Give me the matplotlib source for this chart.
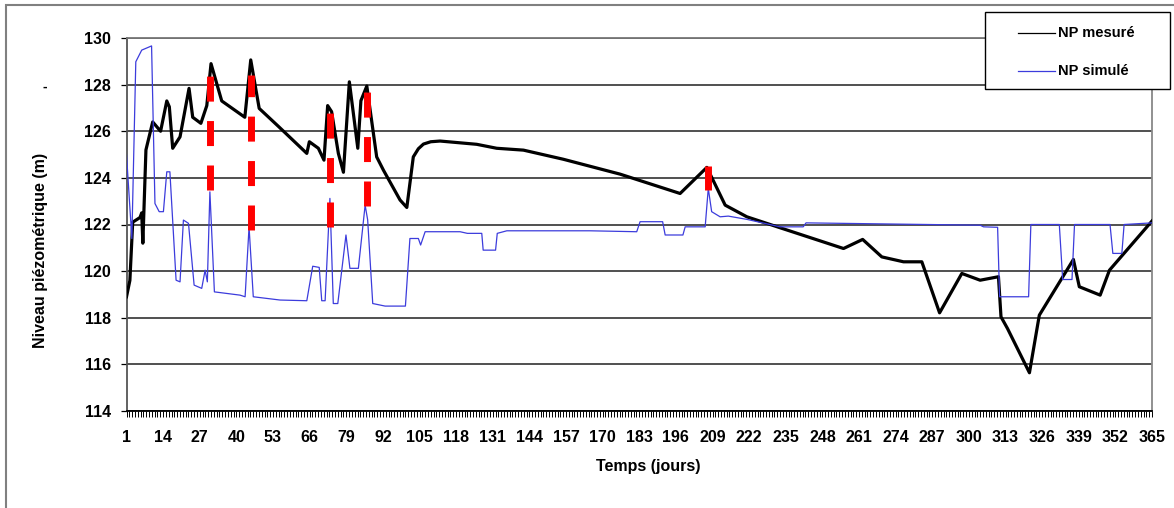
import numpy as np
import matplotlib
matplotlib.use('Agg')
import matplotlib.pyplot as plt
from matplotlib.lines import Line2D
from matplotlib.patches import Rectangle

plt.rcParams['font.family'] = ['Liberation Sans', 'DejaVu Sans']
plt.rcParams['font.weight'] = 'bold'
plt.rcParams['lines.scale_dashes'] = False

mes_days = [1, 2.2, 3.2, 5.8, 6.4, 6.8, 7.9, 10.3, 13.1, 15.3, 16.2, 17.4, 20, 23.2, 24.5,
            27.4, 29.5, 31, 34.8, 43, 45.1, 48.1, 55, 65, 65.9, 69.1, 71.1, 72.4, 73.8,
            76.2, 78, 80.1, 83.1, 84.2, 86.3, 89.8, 92.2, 98.1, 100.5, 102.8, 104.6, 106.4,
            109, 112.3, 125.3, 132.4, 141.9, 156, 176.2, 197.5, 207, 213.5, 221.2, 233,
            255.5, 262.3, 269.1, 276.8, 283.3, 289.6, 297.5, 304, 310.5, 311.4, 313.7,
            321.5, 325, 337.1, 339.2, 346.6, 349.9, 365]
mes_vals = [118.9, 119.6, 122.1, 122.3, 122.5, 121.2, 125.2, 126.4, 126.0, 127.3, 127.05,
            125.27, 125.76, 127.84, 126.6, 126.34, 127.1, 128.9, 127.3, 126.6, 129.06, 126.98,
            126.2, 125.05, 125.55, 125.27, 124.76, 127.1, 126.84, 125.05, 124.24, 128.12,
            125.27, 127.31, 127.94, 124.9, 124.33, 123.05, 122.73, 124.9, 125.25, 125.45,
            125.55, 125.58, 125.44, 125.27, 125.19, 124.8, 124.16, 123.33, 124.45, 122.83,
            122.33, 121.86, 120.97, 121.36, 120.61, 120.4, 120.4, 118.21, 119.9, 119.61,
            119.76, 118.04, 117.54, 115.64, 118.11, 120.5, 119.33, 118.97, 120.04, 122.15]

# NP simule (simulated level)
sim_days = [1, 2.9, 4.3, 6.4, 9.9, 11.1, 12.6, 14.1, 15.3, 16.4, 18.6, 20, 21.2, 23, 25,
            27.7, 28.9, 29.7, 30.6, 32.2, 41.3, 43.1, 44.5, 46, 55.5, 65, 67.1, 69.4, 70.3,
            71.5, 73.2, 74.4, 76, 78.9, 80.3, 83.3, 85.7, 86.6, 88.4, 92.8, 100, 101.6, 104.6,
            105.4, 107, 119.4, 122, 127.1, 127.6, 132, 132.6, 136, 165.5, 182.1, 183.3, 191.3,
            192.2, 198.5, 199.3, 206.4, 207.5, 208.7, 211.7, 214.6, 221.2, 233, 241.2, 242.2,
            304, 305.2, 310.2, 310.9, 321.2, 322, 332.1, 333.3, 336.6, 337.5, 350.1, 351.1,
            354.3, 355.1, 365]
sim_vals = [125.0, 121.4, 128.98, 129.48, 129.66, 122.9, 122.55, 122.55, 124.26, 124.26,
            119.61, 119.54, 122.19, 122.05, 119.4, 119.26, 120.04, 119.54, 123.4, 119.11,
            118.97, 118.9, 121.9, 118.9, 118.76, 118.73, 120.21, 120.16, 118.73, 118.73,
            123.12, 118.61, 118.61, 121.55, 120.12, 120.12, 122.83, 122.2, 118.61, 118.5,
            118.5, 121.4, 121.4, 121.12, 121.69, 121.69, 121.62, 121.62, 120.9, 120.9,
            121.62, 121.73, 121.73, 121.69, 122.12, 122.12, 121.55, 121.55, 121.9, 121.9,
            123.55, 122.55, 122.33, 122.36, 122.22, 121.9, 121.9, 122.07, 121.97, 121.9,
            121.88, 118.9, 118.9, 122.0, 122.0, 119.64, 119.64, 122.0, 122.0, 120.76, 120.76,
            122.0, 122.07]

# red dashed lag markers
red_days = [30.6, 45.3, 73.2, 86.2, 207.5]
red_top = [128.35, 128.4, 126.8, 127.7, 124.5]
red_bottom = [123.5, 121.75, 121.9, 122.8, 123.5]

y_ticks = list(range(114, 131, 2))
x_labels = list(range(1, 366, 13))

fig = plt.figure(figsize=(11.74, 5.08), dpi=100)
ax = fig.add_axes([126.5 / 1174, 1 - 411 / 508, (1152 - 126.5) / 1174, 373 / 508])

ax.plot(mes_days, mes_vals, color='black', lw=2.3, zorder=3)
ax.plot(sim_days, sim_vals, color='#3c3cdc', lw=0.9, zorder=4)
ax.vlines(red_days, red_bottom, red_top, colors='#ff0000', lw=5.0,
          linestyles=[(0, (18, 14))], zorder=5)

ax.set_xlim(1, 365)
ax.set_ylim(114, 130)
ax.set_yticks(y_ticks)
ax.set_xticks(x_labels)
ax.set_xticks(np.arange(1, 366), minor=True)
ax.tick_params(axis='x', which='both', length=4.5, width=0.7, direction='out', pad=9,
               labelsize=11.5)
ax.tick_params(axis='y', length=4, width=0.9, direction='out', pad=7, labelsize=11.5)
for lab in ax.get_xticklabels() + ax.get_yticklabels():
    lab.set_fontweight('bold')

ax.grid(True, axis='y', color='#505050', lw=1.4, zorder=1)
ax.set_axisbelow(True)
ax.spines['left'].set_color('#555555')
ax.spines['left'].set_linewidth(1.3)
ax.spines['bottom'].set_color('black')
ax.spines['bottom'].set_linewidth(1.3)
ax.spines['top'].set_color('#777777')
ax.spines['top'].set_linewidth(1.3)
ax.spines['right'].set_color('#888888')
ax.spines['right'].set_linewidth(1.3)

fig.text(648 / 1174, 1 - 467 / 508, 'Temps (jours)', ha='center', va='center',
         fontsize=11.5, fontweight='bold')
fig.text(41 / 1174, 1 - 250 / 508, 'Niveau piézométrique (m)', ha='center', va='center',
         rotation=90, fontsize=11.5, fontweight='bold')
fig.text(45 / 1174, 1 - 87 / 508, '-', ha='center', va='center', fontsize=10,
         fontweight='bold')

# outer chart border
fig.add_artist(Rectangle((6 / 1174, -0.05), 1.1, 1 - 5 / 508 + 0.05, transform=fig.transFigure,
                         fill=False, edgecolor='#808080', lw=1.5))

# legend box
lx0, lx1, ly0, ly1 = 985, 1170, 12, 89
fig.add_artist(Rectangle((lx0 / 1174, 1 - ly1 / 508), (lx1 - lx0) / 1174, (ly1 - ly0) / 508,
                         transform=fig.transFigure, facecolor='white', edgecolor='black',
                         lw=1.0, zorder=10))
for ypx, col, lab in [(33, 'black', 'NP mesuré'), (71, '#3c3cdc', 'NP simulé')]:
    fig.add_artist(Line2D([1018 / 1174, 1055 / 1174], [1 - ypx / 508] * 2, color=col, lw=0.9,
                          transform=fig.transFigure, zorder=11))
    fig.text(1058 / 1174, 1 - ypx / 508, lab, ha='left', va='center', fontsize=10.5,
             fontweight='bold', family=['Liberation Sans Narrow', 'Liberation Sans'], zorder=11)

fig.savefig('out.png', dpi=100)
